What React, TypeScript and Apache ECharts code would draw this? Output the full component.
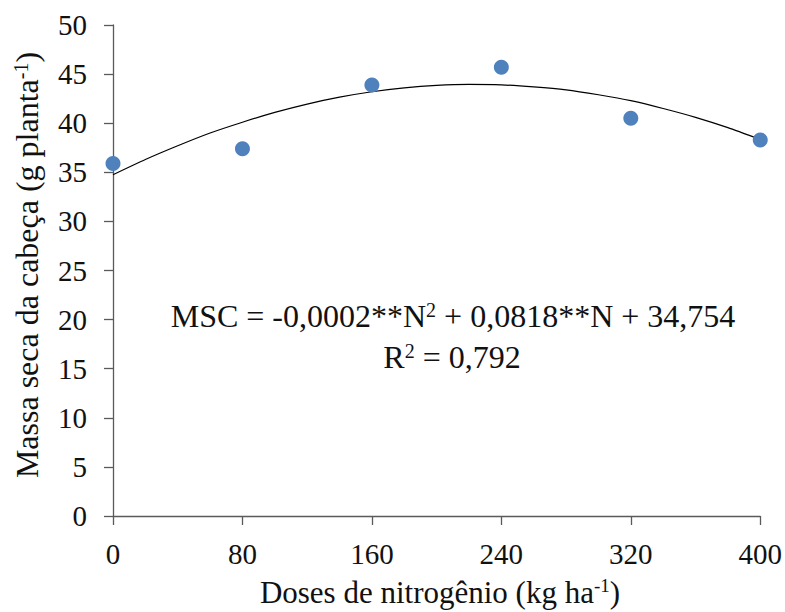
import React, { useEffect, useRef } from "react";
import * as echarts from "echarts";

const doses = [0, 80, 160, 240, 320, 400];
const massaSeca = [35.9, 37.4, 43.9, 45.7, 40.5, 38.3];
// trend curve
const trendX = [0, 20, 40, 60, 80, 100, 120, 140, 160, 180, 200, 220, 240, 260, 280, 300, 320, 340, 360, 380, 400];
const trendY = [34.75, 36.3, 37.7, 39.0, 40.1, 41.1, 41.95, 42.65, 43.2, 43.6, 43.85, 43.95, 43.9, 43.7, 43.4, 42.9, 42.3, 41.5, 40.6, 39.55, 38.35];
const xTicks = [0, 80, 160, 240, 320, 400];
const yTicks = [0, 5, 10, 15, 20, 25, 30, 35, 40, 45, 50];

const FONT = "Liberation Serif";
const TXT = "#111";

const makeRich = (size: number) => ({
  n: { fontFamily: FONT, fontSize: size, fill: TXT },
  s: { fontFamily: FONT, fontSize: Math.round(size * 0.62), fill: TXT, verticalAlign: "top", padding: [0, 0, Math.round(size * 0.42), 0] },
});

export default function App() {
  const ref = useRef<HTMLDivElement>(null);
  useEffect(() => {
    if (!ref.current) return;
    const chart = echarts.init(ref.current, null, { renderer: "svg" });
    chart.setOption({
      animation: false,
      backgroundColor: "#fff",
      textStyle: { fontFamily: FONT },
      grid: { left: 113, right: 24, top: 25, bottom: 96 },
      xAxis: {
        type: "value",
        min: xTicks[0],
        max: xTicks[xTicks.length - 1],
        interval: 80,
        axisLine: { show: true, lineStyle: { color: "#5a5a5a", width: 1.3 } },
        axisTick: { show: true, length: 9, lineStyle: { color: "#5a5a5a", width: 1.3 } },
        splitLine: { show: false },
        axisLabel: { fontFamily: FONT, fontSize: 29, color: TXT, margin: 23 },
      },
      yAxis: {
        type: "value",
        min: yTicks[0],
        max: yTicks[yTicks.length - 1],
        interval: 5,
        axisLine: { show: true, lineStyle: { color: "#5a5a5a", width: 1.3 } },
        axisTick: { show: true, length: 9, lineStyle: { color: "#5a5a5a", width: 1.3 } },
        splitLine: { show: false },
        axisLabel: { fontFamily: FONT, fontSize: 29, color: TXT, margin: 26 },
      },
      series: [
        {
          type: "line",
          data: trendX.map((x, i) => [x, trendY[i]]),
          smooth: 0.2,
          showSymbol: false,
          lineStyle: { color: "#000", width: 1.2 },
          z: 2,
        },
        {
          type: "scatter",
          data: doses.map((x, i) => [x, massaSeca[i]]),
          symbolSize: 15,
          itemStyle: { color: "#4F81BD", opacity: 1 },
          z: 3,
        },
      ],
      graphic: [
        {
          type: "text",
          x: 27,
          y: 265,
          rotation: Math.PI / 2,
          style: {
            text: "{n|Massa seca da cabeça (g planta}{s|-1}{n|)}",
            align: "center",
            verticalAlign: "middle",
            rich: makeRich(32),
          },
        },
        {
          type: "text",
          x: 440,
          y: 592,
          style: {
            text: "{n|Doses de nitrogênio (kg ha}{s|-1}{n|)}",
            align: "center",
            verticalAlign: "middle",
            rich: makeRich(31),
          },
        },
        {
          type: "text",
          x: 453,
          y: 316,
          style: {
            text: "{n|MSC = -0,0002**N}{s|2}{n| + 0,0818**N + 34,754}",
            align: "center",
            verticalAlign: "middle",
            rich: makeRich(32),
          },
        },
        {
          type: "text",
          x: 452,
          y: 357,
          style: {
            text: "{n|R}{s|2}{n| = 0,792}",
            align: "center",
            verticalAlign: "middle",
            rich: makeRich(32),
          },
        },
      ],
    });
    return () => chart.dispose();
  }, []);
  return <div ref={ref} style={{ width: 785, height: 612, position: "absolute", left: 0, top: 0 }} />;
}
